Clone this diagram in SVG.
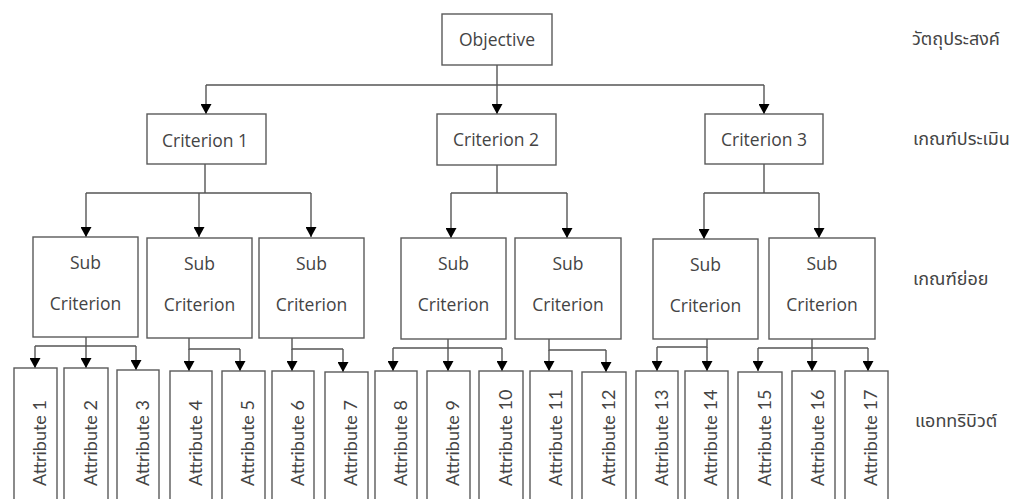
<svg xmlns="http://www.w3.org/2000/svg" width="1021" height="499" viewBox="0 0 1021 499">
<style>
.box{fill:#fff;stroke:#5a5a5a;stroke-width:1.4}
.t{font-family:"Open Sans","Noto Sans",sans-serif;font-size:17.5px;fill:#444;text-anchor:middle}
.a{font-family:Lato,"Open Sans",sans-serif;font-size:18px;fill:#444;text-anchor:start}
.th{font-family:"Noto Sans Thai","Leelawadee UI",Tahoma,"DejaVu Sans",sans-serif;font-size:18px;fill:#444}
.c{fill:none;stroke:#555;stroke-width:1.4}
.ar{marker-end:url(#arr)}
</style>
<defs>
<marker id="arr" viewBox="0 0 10 11" refX="10" refY="5.5" markerWidth="10" markerHeight="11" markerUnits="userSpaceOnUse" orient="auto">
<path d="M0,0 L10,5.5 L0,11 z" fill="#000"/>
</marker>
</defs>
<rect width="1021" height="499" fill="#fff"/>

<g id="connectors">
<path class="c" d="M497,65 V85 M206,85 H764"/>
<path class="c ar" d="M206,85 V114"/>
<path class="c ar" d="M497,85 V114"/>
<path class="c ar" d="M764,85 V114"/>

<path class="c" d="M205,164 V193 M86,193 H311"/>
<path class="c ar" d="M86,193 V237"/>
<path class="c ar" d="M199,193 V237"/>
<path class="c ar" d="M311,193 V237"/>

<path class="c" d="M497,165 V193 M451,193 H567"/>
<path class="c ar" d="M451,193 V238"/>
<path class="c ar" d="M567,193 V238"/>

<path class="c" d="M764,164 V193 M704,193 H819"/>
<path class="c ar" d="M704,193 V239"/>
<path class="c ar" d="M819,193 V238"/>

<path class="c" d="M86,337 V346 M35,346 H136"/>
<path class="c ar" d="M35,346 V368"/>
<path class="c ar" d="M86,346 V368"/>
<path class="c ar" d="M136,346 V370"/>

<path class="c" d="M189,338 V349 H240"/>
<path class="c ar" d="M189,349 V371"/>
<path class="c ar" d="M240,349 V371"/>

<path class="c" d="M292,338 V349 H343"/>
<path class="c ar" d="M292,349 V371"/>
<path class="c ar" d="M343,349 V372"/>

<path class="c" d="M448,339 V348 M393,348 H502"/>
<path class="c ar" d="M393,348 V371"/>
<path class="c ar" d="M448,348 V371"/>
<path class="c ar" d="M502,348 V371"/>

<path class="c" d="M549,339 V350 H606"/>
<path class="c ar" d="M549,350 V371"/>
<path class="c ar" d="M606,350 V372"/>

<path class="c" d="M707,339 V347 H657"/>
<path class="c ar" d="M657,347 V371"/>
<path class="c ar" d="M707,347 V371"/>

<path class="c" d="M812,339 V348 M758,348 H868"/>
<path class="c ar" d="M758,348 V371"/>
<path class="c ar" d="M812,348 V371"/>
<path class="c ar" d="M868,348 V371"/>
</g>

<g id="objective"><rect class="box" x="442" y="14" width="110" height="51"/><text class="t" x="497" y="46">Objective</text></g>

<g id="criterion1"><rect class="box" x="147" y="114" width="119" height="50"/><text class="t" x="205" y="147">Criterion 1</text></g>
<g id="criterion2"><rect class="box" x="437" y="114" width="119" height="51"/><text class="t" x="496" y="146">Criterion 2</text></g>
<g id="criterion3"><rect class="box" x="705" y="114" width="118" height="50"/><text class="t" x="764" y="146">Criterion 3</text></g>

<g id="sub1"><rect class="box" x="33" y="237" width="105" height="100"/><text class="t" x="85.5" y="269">Sub</text><text class="t" x="85.5" y="310">Criterion</text></g>
<g id="sub2"><rect class="box" x="147" y="238" width="105" height="100"/><text class="t" x="199.5" y="270">Sub</text><text class="t" x="199.5" y="311">Criterion</text></g>
<g id="sub3"><rect class="box" x="259" y="238" width="105" height="100"/><text class="t" x="311.5" y="270">Sub</text><text class="t" x="311.5" y="311">Criterion</text></g>
<g id="sub4"><rect class="box" x="401" y="238" width="105" height="101"/><text class="t" x="453.5" y="270">Sub</text><text class="t" x="453.5" y="311">Criterion</text></g>
<g id="sub5"><rect class="box" x="515" y="238" width="106" height="101"/><text class="t" x="568" y="270">Sub</text><text class="t" x="568" y="311">Criterion</text></g>
<g id="sub6"><rect class="box" x="653" y="239" width="105" height="100"/><text class="t" x="705.5" y="271">Sub</text><text class="t" x="705.5" y="312">Criterion</text></g>
<g id="sub7"><rect class="box" x="769" y="238" width="106" height="101"/><text class="t" x="822" y="270">Sub</text><text class="t" x="822" y="311">Criterion</text></g>

<g id="attr1"><rect class="box" x="14" y="368" width="43" height="140"/><text class="a" transform="translate(46,486) rotate(-90)">Attribute 1</text></g>
<g id="attr2"><rect class="box" x="64" y="368" width="44" height="140"/><text class="a" transform="translate(96.5,486) rotate(-90)">Attribute 2</text></g>
<g id="attr3"><rect class="box" x="117" y="370" width="42" height="140"/><text class="a" transform="translate(148.5,486) rotate(-90)">Attribute 3</text></g>
<g id="attr4"><rect class="box" x="170" y="371" width="42" height="140"/><text class="a" transform="translate(201.5,486) rotate(-90)">Attribute 4</text></g>
<g id="attr5"><rect class="box" x="222" y="371" width="43" height="140"/><text class="a" transform="translate(254,486) rotate(-90)">Attribute 5</text></g>
<g id="attr6"><rect class="box" x="272" y="371" width="42" height="140"/><text class="a" transform="translate(303.5,486) rotate(-90)">Attribute 6</text></g>
<g id="attr7"><rect class="box" x="325" y="372" width="43" height="140"/><text class="a" transform="translate(357,486) rotate(-90)">Attribute 7</text></g>
<g id="attr8"><rect class="box" x="375" y="371" width="42" height="140"/><text class="a" transform="translate(406.5,486) rotate(-90)">Attribute 8</text></g>
<g id="attr9"><rect class="box" x="427" y="371" width="43" height="140"/><text class="a" transform="translate(459,486) rotate(-90)">Attribute 9</text></g>
<g id="attr10"><rect class="box" x="479" y="371" width="44" height="140"/><text class="a" transform="translate(511.5,486) rotate(-90)">Attribute 10</text></g>
<g id="attr11"><rect class="box" x="530" y="371" width="42" height="140"/><text class="a" transform="translate(561.5,486) rotate(-90)">Attribute 11</text></g>
<g id="attr12"><rect class="box" x="582" y="372" width="44" height="140"/><text class="a" transform="translate(614.5,486) rotate(-90)">Attribute 12</text></g>
<g id="attr13"><rect class="box" x="636" y="371" width="42" height="140"/><text class="a" transform="translate(667.5,486) rotate(-90)">Attribute 13</text></g>
<g id="attr14"><rect class="box" x="685" y="371" width="43" height="140"/><text class="a" transform="translate(717,486) rotate(-90)">Attribute 14</text></g>
<g id="attr15"><rect class="box" x="738" y="372" width="44" height="140"/><text class="a" transform="translate(770.5,486) rotate(-90)">Attribute 15</text></g>
<g id="attr16"><rect class="box" x="792" y="371" width="43" height="140"/><text class="a" transform="translate(824,486) rotate(-90)">Attribute 16</text></g>
<g id="attr17"><rect class="box" x="845" y="371" width="43" height="140"/><text class="a" transform="translate(877,486) rotate(-90)">Attribute 17</text></g>

<g id="levels">
<text class="th" x="912" y="45">วัตถุประสงค์</text>
<text class="th" x="913" y="145">เกณฑ์ประเมิน</text>
<text class="th" x="913" y="285">เกณฑ์ย่อย</text>
<text class="th" x="915" y="427">แอททริบิวต์</text>
</g>
</svg>
